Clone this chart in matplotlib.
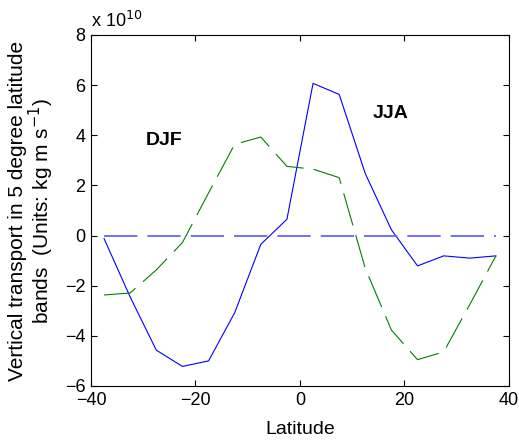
import numpy as np
import matplotlib
matplotlib.use("Agg")
import matplotlib.pyplot as plt

plt.rcParams["font.family"] = ["Liberation Sans", "DejaVu Sans"]
plt.rcParams["lines.scale_dashes"] = False

# latitude band centres
lat = [-37.5, -32.5, -27.5, -22.5, -17.5, -12.5, -7.5, -2.5,
       2.5, 7.5, 12.5, 17.5, 22.5, 27.5, 32.5, 37.5]
# transport, units of 1e10 kg m s^-1
jja = [-0.12, -2.45, -4.57, -5.22, -5.0, -3.08, -0.35, 0.65,
       6.07, 5.63, 2.47, 0.23, -1.21, -0.81, -0.9, -0.81]
djf = [-2.37, -2.29, -1.37, -0.28, 1.7, 3.64, 3.93, 2.76,
       2.65, 2.31, -1.31, -3.77, -4.95, -4.64, -2.75, -0.81]
zero_line = [0.0] * len(lat)

fig = plt.figure(figsize=(5.19, 4.43), dpi=100)
ax = fig.add_axes([0.1753, 0.1287, 0.8054, 0.7923])

dash = (0, (24, 7.2))
ax.plot(lat, jja, color="#0000ff", lw=0.8)
ax.plot(lat, djf, color="#008000", lw=0.8, linestyle=dash)
ax.plot(lat, zero_line, color="#6464ff", lw=1.3, linestyle=dash)

ax.text(-29.5, 3.8, "DJF", fontsize=14, fontweight="bold", va="center", ha="left")
ax.text(14.0, 4.85, "JJA", fontsize=14, fontweight="bold", va="center", ha="left")

ax.set_xlim(-40, 40)
ax.set_ylim(-6, 8)
ax.set_xticks([-40, -20, 0, 20, 40])
ax.set_yticks([-6, -4, -2, 0, 2, 4, 6, 8])
ax.tick_params(direction="in", top=True, right=True, labelsize=13, length=4, width=0.8, pad=4)
for s in ax.spines.values():
    s.set_linewidth(0.8)

ax.text(0.0, 1.01, "x 10$^{10}$", transform=ax.transAxes, fontsize=13,
        ha="left", va="bottom")
ax.set_xlabel("Latitude", fontsize=14, labelpad=9)
ax.set_ylabel("Vertical transport in 5 degree latitude\nbands  (Units: kg m s$^{-1}$)",
              fontsize=15, labelpad=6, linespacing=1.0)

fig.savefig("out.png", dpi=100)
